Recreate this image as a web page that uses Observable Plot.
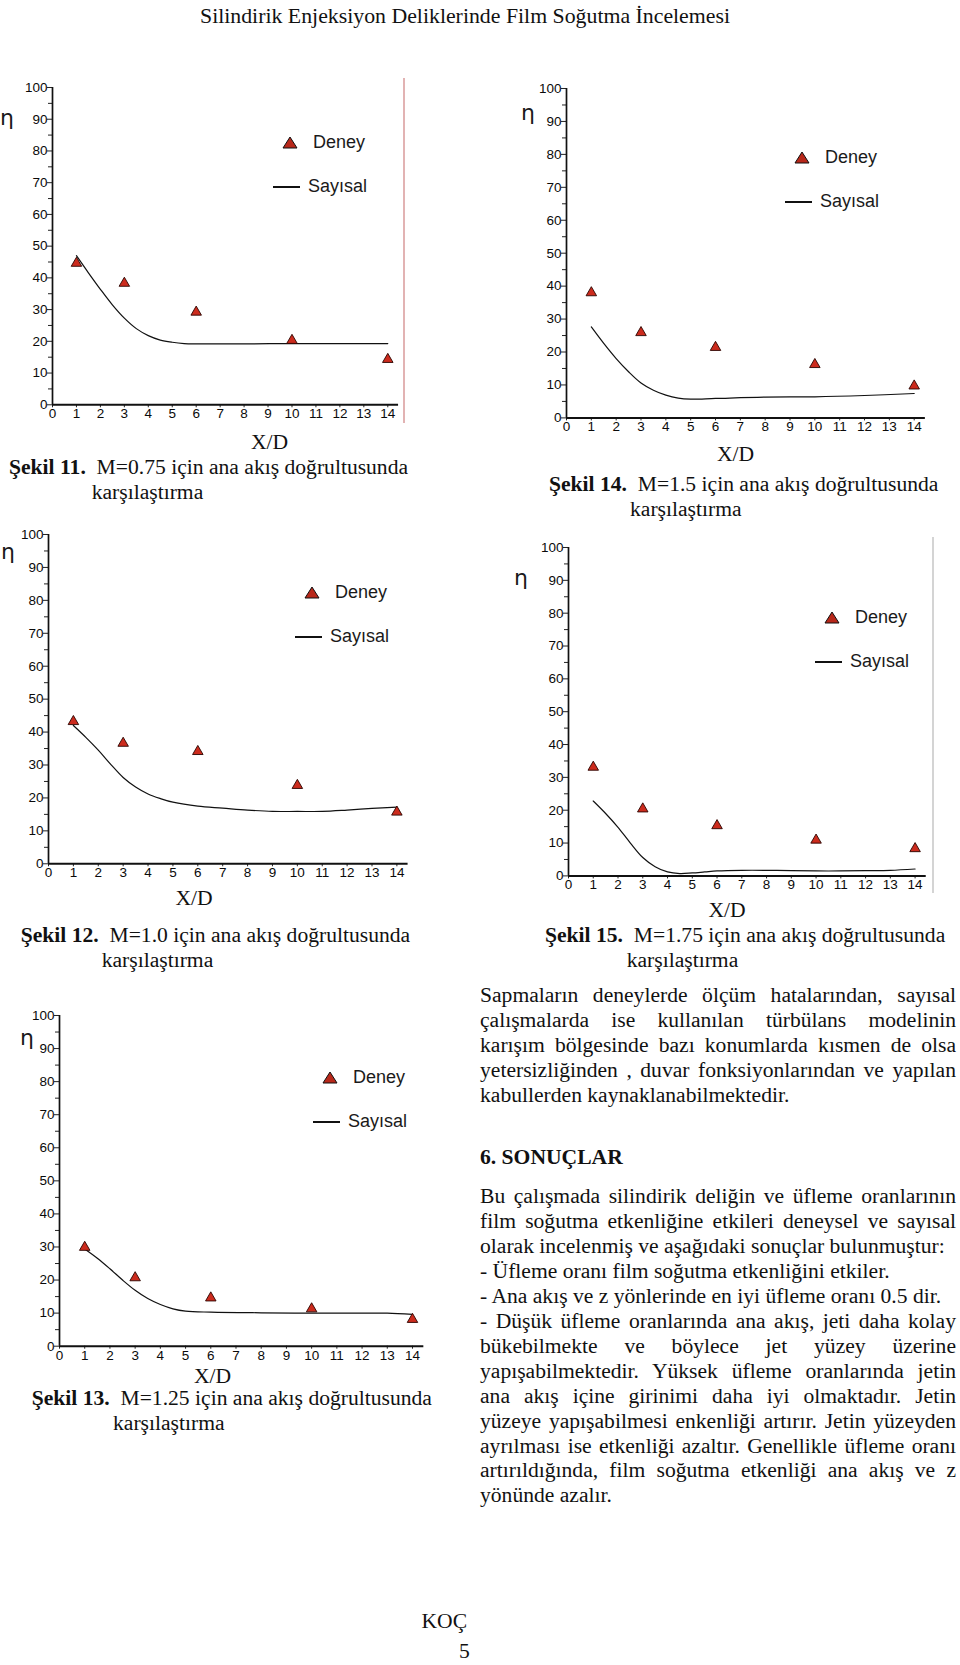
<!DOCTYPE html>
<html><head><meta charset="utf-8">
<script src="https://cdn.jsdelivr.net/npm/d3@7"></script>
<script src="https://cdn.jsdelivr.net/npm/@observablehq/plot@0.6"></script>
<style>
body{margin:0;background:#fff;}
#page{position:relative;width:960px;height:1665px;overflow:hidden;background:#fff;font-family:"Liberation Serif","Times New Roman",serif;color:#111;}
.abs{position:absolute;white-space:nowrap;}
.serif20{font-size:21.6px;line-height:26px;}
.leg{font-family:"Liberation Sans",Arial,sans-serif;font-size:18px;line-height:20px;color:#1a1a1a;}
.eta{font-family:"DejaVu Sans","Liberation Sans",sans-serif;font-size:22px;line-height:22px;color:#1a1a1a;}
.jl{position:absolute;left:480px;width:476px;font-size:21.6px;line-height:26px;white-space:nowrap;}
.jl.j{text-align:justify;text-align-last:justify;white-space:normal;}
svg text{fill:#0a0a0a;}
</style></head>
<body><div id="page"></div>
<script>
// ---------- data ----------
const xd = [1, 3, 6, 10, 14];
const xTicks = [0,1,2,3,4,5,6,7,8,9,10,11,12,13,14];
const yTicks = [0,10,20,30,40,50,60,70,80,90,100];
const yMinor = [5,15,25,35,45,55,65,75,85,95];

const deney11 = [44.6, 38.3, 29.2, 20.3, 14.3];
const sayX11 = [1,1.5,2,2.5,3,3.5,4,4.5,5,5.5,6,8,10,12,14];
const say11  = [47,41.6,36.4,31.5,27.3,24.0,21.8,20.4,19.7,19.3,19.2,19.2,19.3,19.3,19.3];

const deney14 = [38.0, 25.9, 21.4, 16.2, 9.7];
const sayX14 = [1,1.5,2,2.5,3,3.5,4,4.5,5,6,8,10,12,14];
const say14  = [27.6,22.6,18.0,14.0,10.6,8.4,6.9,6.0,5.7,5.9,6.3,6.4,6.8,7.4];

const deney12 = [43.2, 36.6, 34.1, 23.8, 15.7];
const sayX12 = [1,1.5,2,2.5,3,3.5,4,4.5,5,6,7,8,9,10,11,12,13,14];
const say12  = [42,38.4,34.5,30.2,26.2,23.3,21.2,19.8,18.7,17.5,16.9,16.3,15.9,15.9,15.9,16.3,16.8,17.2];

const deney15 = [33.1, 20.4, 15.3, 10.9, 8.3];
const sayX15 = [1,1.5,2,2.5,3,3.5,4,4.5,5,5.5,6,7,8,9,10,11,12,13,14];
const say15  = [22.8,19.0,14.8,10.0,5.6,2.8,1.2,0.7,0.9,1.2,1.5,1.7,1.7,1.6,1.5,1.5,1.6,1.7,2.1];

const deney13 = [29.9, 20.7, 14.6, 11.3, 8.1];
const sayX13 = [1,1.5,2,2.5,3,3.5,4,4.5,5,6,8,10,12,13,14];
const say13  = [29.4,26.6,23.4,20.0,16.9,14.4,12.6,11.3,10.6,10.3,10.1,10.0,10.0,10.0,9.6];

const legendLabels = ["Deney", "Sayısal"];
const etaLabel = "η";
const xLabel = "X/D";
const captionNums = ["Şekil 11.", "Şekil 14.", "Şekil 12.", "Şekil 15.", "Şekil 13."];
const captionTexts = ["M=0.75 için ana akış doğrultusunda", "M=1.5 için ana akış doğrultusunda",
  "M=1.0 için ana akış doğrultusunda", "M=1.75 için ana akış doğrultusunda", "M=1.25 için ana akış doğrultusunda"];
const captionLine2 = "karşılaştırma";

const headerText = "Silindirik Enjeksiyon Deliklerinde Film Soğutma İncelemesi";
const para1 = [
  ["Sapmaların deneylerde ölçüm hatalarından, sayısal", true],
  ["çalışmalarda ise kullanılan türbülans modelinin", true],
  ["karışım bölgesinde bazı konumlarda kısmen de olsa", true],
  ["yetersizliğinden , duvar fonksiyonlarından ve yapılan", true],
  ["kabullerden kaynaklanabilmektedir.", false]
];
const heading = "6.  SONUÇLAR";
const para2 = [
  ["Bu çalışmada silindirik deliğin ve üfleme oranlarının", true],
  ["film soğutma etkenliğine etkileri deneysel ve sayısal", true],
  ["olarak incelenmiş ve aşağıdaki sonuçlar bulunmuştur:", false],
  ["- Üfleme oranı film soğutma etkenliğini etkiler.", false],
  ["- Ana akış ve z yönlerinde en iyi üfleme oranı 0.5 dir.", false],
  ["- Düşük üfleme oranlarında ana akış, jeti daha kolay", true],
  ["bükebilmekte ve böylece jet yüzey üzerine", true],
  ["yapışabilmektedir. Yüksek üfleme oranlarında jetin", true],
  ["ana akış içine girinimi daha iyi olmaktadır. Jetin", true],
  ["yüzeye yapışabilmesi enkenliği artırır. Jetin yüzeyden", true],
  ["ayrılması ise etkenliği azaltır. Genellikle üfleme oranı", true],
  ["artırıldığında, film soğutma etkenliği ana akış ve z", true],
  ["yönünde azalır.", false]
];
const footerName = "KOÇ";
const footerPage = "5";

// ---------- layout (page pixels) ----------
const charts = [
  {deney: deney11, sx: sayX11, sy: say11, x0: 51.7, x14: 387, y0: 404, y100: 86.7,
   leg: {lx: 273, ty: 143}, eta: [7,120], xl: [269.5,443], cap: [9,468], cap2: [91.7,493], border: {x:403, y1:78, y2:423, c:"#e2b3b3"}},
  {deney: deney14, sx: sayX14, sy: say14, x0: 566, x14: 913.7, y0: 417.7, y100: 88.3,
   leg: {lx: 785, ty: 158}, eta: [528,115], xl: [735.5,455], cap: [549,485], cap2: [630,510]},
  {deney: deney12, sx: sayX12, sy: say12, x0: 48.3, x14: 396.7, y0: 863.3, y100: 534,
   leg: {lx: 295, ty: 593}, eta: [8,554], xl: [194,899], cap: [20.7,936], cap2: [101.7,961]},
  {deney: deney15, sx: sayX15, sy: say15, x0: 567.7, x14: 914.3, y0: 875.7, y100: 547.3,
   leg: {lx: 815, ty: 618}, eta: [521,580], xl: [727,911], cap: [545,936], cap2: [626.7,961], border: {x:931.7, y1:537, y2:893, c:"#d4d4d4"}},
  {deney: deney13, sx: sayX13, sy: say13, x0: 59.3, x14: 412.3, y0: 1345.7, y100: 1015,
   leg: {lx: 313, ty: 1078}, eta: [27,1040], xl: [212.5,1377], cap: [31.7,1399], cap2: [113,1424]}
];

const page = document.getElementById("page");
function add(html, cls, left, top, extra) {
  const d = document.createElement("div");
  d.className = "abs " + (cls || "");
  d.style.left = left + "px";
  d.style.top = top + "px";
  if (extra) Object.assign(d.style, extra);
  d.innerHTML = html;
  page.appendChild(d);
  return d;
}

const XMAX = 14.45;
charts.forEach((c, i) => {
  const ppu = (c.x14 - c.x0) / 14;
  const padL = 52, padR = 8, padT = 12, padB = 26;
  const W = XMAX * ppu + padL + padR;
  const H = (c.y0 - c.y100) + padT + padB;
  const pts = xd.map((x, k) => ({x, y: c.deney[k]}));
  const line = c.sx.map((x, k) => ({x, y: c.sy[k]}));
  const svg = Plot.plot({
    width: W, height: H,
    marginLeft: padL, marginRight: padR, marginTop: padT, marginBottom: padB,
    x: {domain: [0, XMAX]},
    y: {domain: [0, 100]},
    style: {fontFamily: "'Liberation Sans', Arial, sans-serif", fontSize: "13.5px", color: "#111", background: "transparent", overflow: "visible"},
    marks: [
      Plot.axisY(yMinor, {tickSize: 4, tickFormat: () => "", label: null, stroke: "#222"}),
      Plot.axisY(yTicks, {tickSize: 5, tickPadding: 0, label: null, stroke: "#222", fontSize: 13.5}),
      Plot.axisX(xTicks, {tickSize: 3, tickPadding: 1, label: null, stroke: "#222", fontSize: 13.5}),
      Plot.ruleX([0], {y1: 0, y2: 100, stroke: "#111", strokeWidth: 1.7}),
      Plot.ruleY([0], {x1: 0, x2: XMAX, stroke: "#111", strokeWidth: 2}),
      Plot.line(line, {x: "x", y: "y", curve: "catmull-rom", stroke: "#111", strokeWidth: 1.2}),
      Plot.dot(pts, {x: "x", y: "y", symbol: "triangle", r: 3.9, fill: "#cc2b1d", stroke: "#2a0500", strokeWidth: 0.9})
    ]
  });
  svg.style.position = "absolute";
  svg.style.left = (c.x0 - padL) + "px";
  svg.style.top = (c.y100 - padT) + "px";
  page.appendChild(svg);

  // legend
  const L = c.leg;
  add(`<svg width="16" height="13" style="display:block"><polygon points="8,1 15,12 1,12" fill="#b8281a" stroke="#111" stroke-width="1"/></svg>`, "", L.lx + 9, L.ty - 7);
  add(legendLabels[0], "leg", L.lx + 40, L.ty - 11);
  add("", "", L.lx, L.ty + 43, {width: "27px", height: "0px", borderTop: "2px solid #111"});
  add(legendLabels[1], "leg", L.lx + 35, L.ty + 33);

  // eta, x label
  add(etaLabel, "eta", c.eta[0] - 7, c.eta[1] - 13);
  add(xLabel, "serif20", c.xl[0], c.xl[1] - 14, {transform: "translateX(-50%)"});

  // captions
  add(`<b>${captionNums[i]}</b>&nbsp; ${captionTexts[i]}`, "serif20", c.cap[0], c.cap[1] - 14);
  add(captionLine2, "serif20", c.cap2[0], c.cap2[1] - 14);

  if (c.border) add("", "", c.border.x, c.border.y1, {width: "0px", height: (c.border.y2 - c.border.y1) + "px", borderLeft: "2px solid " + c.border.c});
});

// header
const hd = add(headerText, "", 200, 3, {fontSize: "22px", lineHeight: "26px", transformOrigin: "0 0"});
const hw = hd.getBoundingClientRect().width;
hd.style.transform = `scaleX(${530 / hw})`;

// body text
const lh = 24.95;
para1.forEach(([t, j], k) => {
  const d = document.createElement("div");
  d.className = "jl" + (j ? " j" : "");
  d.style.top = (996 - 14 + k * lh) + "px";
  d.textContent = t;
  page.appendChild(d);
});
add(`<b>${heading}</b>`, "serif20", 480, 1157.5 - 14);
para2.forEach(([t, j], k) => {
  const d = document.createElement("div");
  d.className = "jl" + (j ? " j" : "");
  d.style.top = (1197 - 14 + k * lh) + "px";
  d.textContent = t;
  page.appendChild(d);
});

// footer
add(footerName, "serif20", 421.5, 1622 - 14);
add(footerPage, "serif20", 459, 1652 - 14);
</script>
</body></html>
